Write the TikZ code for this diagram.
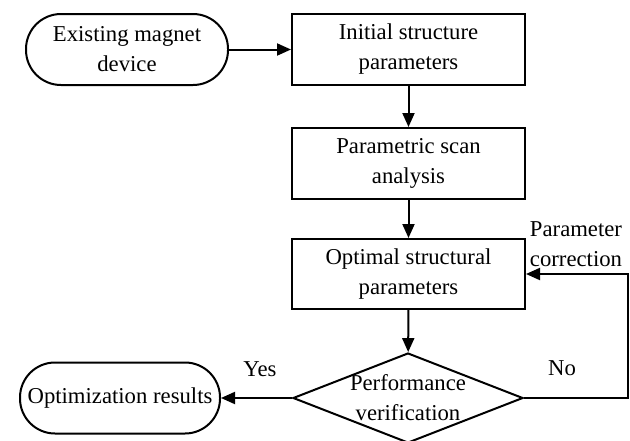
\documentclass[tikz,border=0pt]{standalone}
\usepackage{fontspec}
\setmainfont{Liberation Serif}
\usetikzlibrary{arrows.meta, shapes.geometric}

\begin{document}
\begin{tikzpicture}[x=1pt, y=-1pt, line width=2pt,
    txt/.style={font=\fontsize{22.7}{30}\selectfont, align=center, inner sep=0pt},
    block/.style={txt, draw, minimum width=233pt, minimum height=71pt},
    term/.style={txt, draw, rounded corners=35pt, minimum height=71pt},
    decision/.style={draw, diamond, minimum width=230pt, minimum height=90pt, inner sep=0pt},
    arr/.style={-{Triangle[length=14pt, width=12pt]}}]
    \useasboundingbox (0,0) rectangle (630,440);
    % Start and end blocks
    \node[term, minimum width=202pt] (exist) at (127,49.5) {Existing magnet\\device};
    \node[term, minimum width=200pt] (result) at (120,398) {Optimization results};
    % Main column
    \node[block] (init) at (408.5,49.5) {Initial structure\\parameters};
    \node[block] (scan) at (408.5,163.5) {Parametric scan\\analysis};
    \node[block, minimum height=70pt] (optim) at (408.5,274) {Optimal structural\\parameters};
    % Check
    \node[decision] (verify) at (408,398) {};
    \node[txt] (verifytxt) at (verify.center) {Performance\\verification};
    % Arrows
    \draw[arr] (exist) -- (init);
    \draw[arr] (init) -- (scan);
    \draw[arr] (scan) -- (optim);
    \draw[arr] (optim) -- (verify);
    \draw[arr] (verify) -- (result);
    \coordinate (back) at (628,398);
    \draw[arr] (verify.east) -- (back) |- (optim.east);
    % Labels
    \node[txt] (yes) at (260,369) {Yes};
    \node[txt] (no) at (562,368) {No};
    \node[txt] (corr) at (576,244.5) {Parameter\\correction};
\end{tikzpicture}
\end{document}
